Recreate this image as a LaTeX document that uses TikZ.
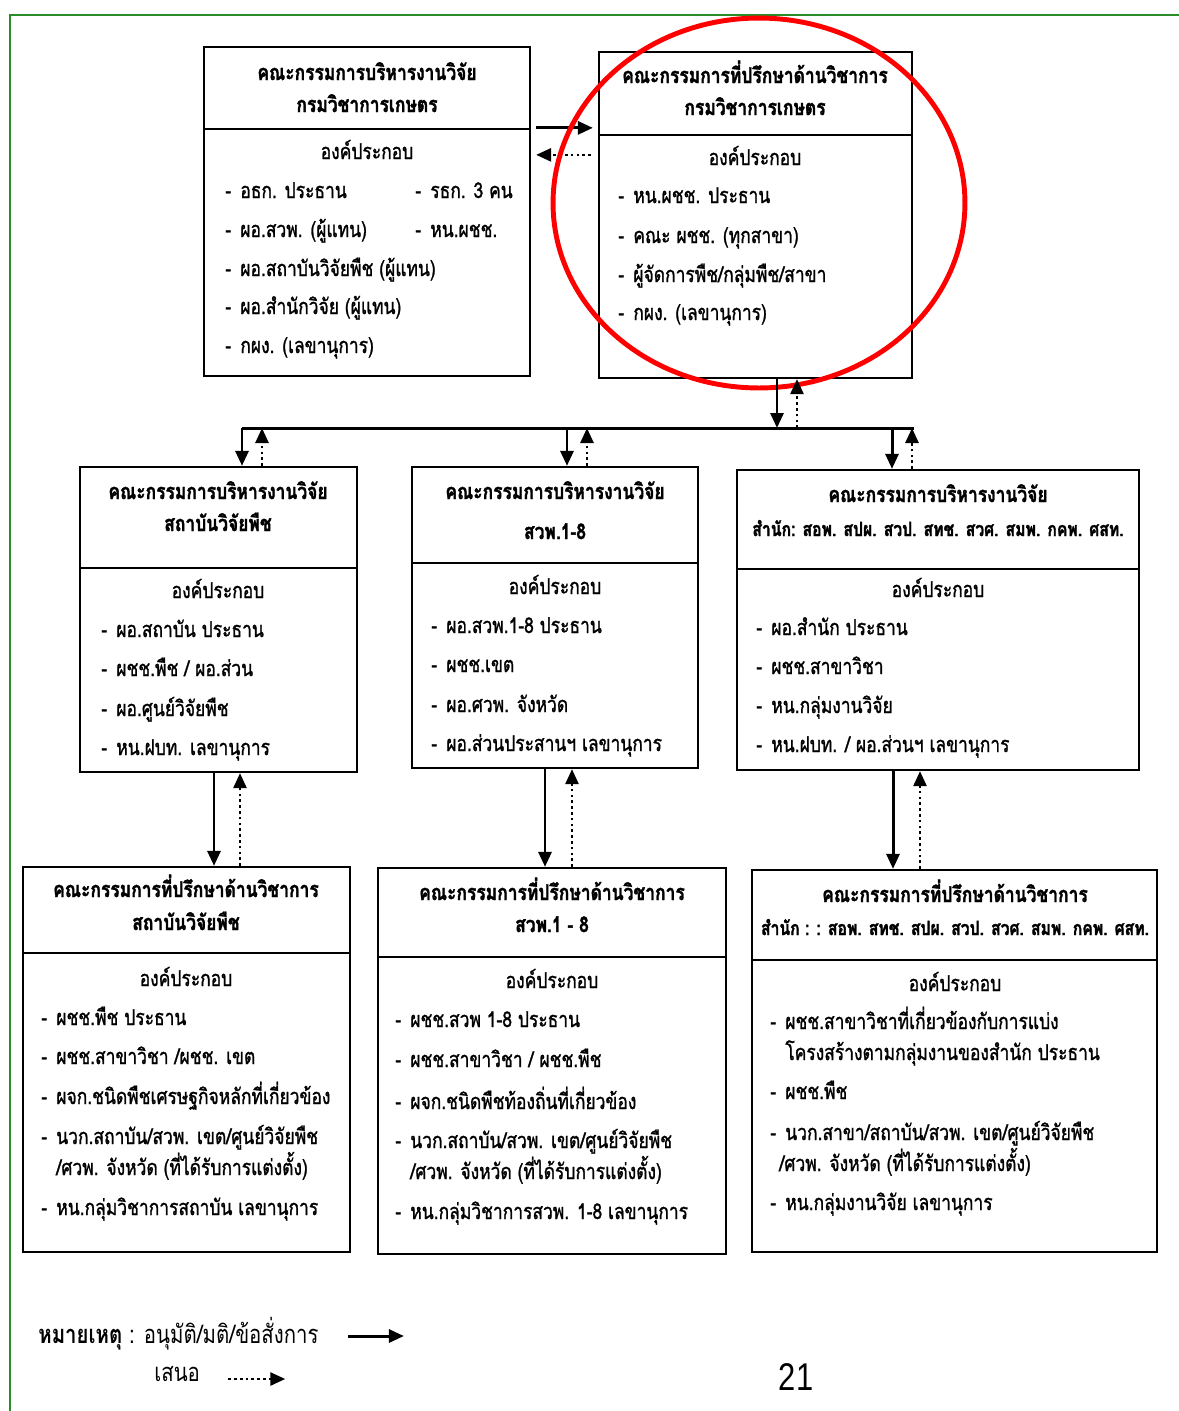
\documentclass[tikz,border=0pt]{standalone}
\usepackage{fontspec}
\setsansfont{Liberation Sans}
\newfontfamily\thai[Script=Thai, FakeStretch=0.8]{Loma}
\newfontfamily\thaimid[Script=Thai, FakeStretch=0.8, FakeBold=1.2]{Loma}
\newfontfamily\thaihead[Script=Thai, FakeStretch=0.8, FakeBold=1.5]{Loma}
\usetikzlibrary{arrows.meta,fit,calc}

\tikzset{
  part/.style={draw, line width=1.3pt, inner sep=0pt},
  ttl/.style={font=\thaihead\bfseries\fontsize{12.4}{14}\selectfont, text height=0.8em, text depth=0pt, inner sep=0pt},
  ttlsmall/.style={ttl, font=\thaihead\bfseries\fontsize{11.2}{13}\selectfont},
  lbl/.style={font=\thaimid\fontsize{12.4}{14}\selectfont, text height=0.8em, text depth=0pt, inner sep=0pt},
  itm/.style={lbl, anchor=west},
  approve/.style={line width=1.7pt, -{Triangle[length=3mm,width=2.6mm]}},
  propose/.style={line width=1.5pt, dash pattern=on 1.5pt off 1.8pt, -{Triangle[length=3mm,width=2.6mm]}},
}
\newcommand{\itemdash}{\makebox[0.3cm][l]{-}}

\begin{document}
\begin{tikzpicture}[x=0.02cm, y=-0.02cm]
  \useasboundingbox (0,0) rectangle (1179,1411);
  \draw[line width=1pt, color={rgb,255:red,40;green,140;blue,40}] (10,1411) -- (10,15) -- (1179,15);

  % top row
  \node[part, fit={(204,47) (530,129)}] (aH) {};
  \node[part, fit={(204,129) (530,376)}] (aB) {};
  \node[ttl] (a1) at (367,73) {คณะกรรมการบริหารงานวิจัย};
  \node[ttl] (a2) at (367,105) {กรมวิชาการเกษตร};
  \node[lbl] (a0) at (367,152) {องค์ประกอบ};
  \node[itm] (a3) at (225,191) {\itemdash อธก. ประธาน};
  \node[itm] (a4) at (415,191) {\itemdash รธก. 3 คน};
  \node[itm] (a5) at (225,230) {\itemdash ผอ.สวพ. (ผู้แทน)};
  \node[itm] (a6) at (415,230) {\itemdash หน.ผชช.};
  \node[itm] (a7) at (225,269) {\itemdash ผอ.สถาบันวิจัยพืช (ผู้แทน)};
  \node[itm] (a8) at (225,307) {\itemdash ผอ.สำนักวิจัย (ผู้แทน)};
  \node[itm] (a9) at (225,346) {\itemdash กผง. (เลขานุการ)};

  \node[part, fit={(599,52) (912,135)}] (bH) {};
  \node[part, fit={(599,135) (912,378)}] (bB) {};
  \node[ttl] (b1) at (755,76) {คณะกรรมการที่ปรึกษาด้านวิชาการ};
  \node[ttl] (b2) at (755,108) {กรมวิชาการเกษตร};
  \node[lbl] (b0) at (755,158) {องค์ประกอบ};
  \node[itm] (b3) at (618,196) {\itemdash หน.ผชช. ประธาน};
  \node[itm] (b4) at (618,236) {\itemdash คณะ ผชช. (ทุกสาขา)};
  \node[itm] (b5) at (618,275) {\itemdash ผู้จัดการพืช/กลุ่มพืช/สาขา};
  \node[itm] (b6) at (618,313) {\itemdash กผง. (เลขานุการ)};

  \draw[approve] ([xshift=0.1cm]aB.north east) -- ([xshift=-0.1cm]aB.north east -| bH.west);
  \draw[propose] ($(aB.north east -| bH.west)+(-7,27)$) -- ($(aB.north east)+(5,27)$);
  \draw[red, line width=2.8pt] (759,203) ellipse [x radius=4.12cm, y radius=3.7cm];

  % middle row
  \node[part, fit={(80,467) (357,568)}] (cH) {};
  \node[part, fit={(80,568) (357,772)}] (cB) {};
  \node[ttl] (c1) at (218,492) {คณะกรรมการบริหารงานวิจัย};
  \node[ttl] (c2) at (218,524) {สถาบันวิจัยพืช};
  \node[lbl] (c0) at (218,591) {องค์ประกอบ};
  \node[itm] (c3) at (101,630) {\itemdash ผอ.สถาบัน ประธาน};
  \node[itm] (c4) at (101,669) {\itemdash ผชช.พืช / ผอ.ส่วน};
  \node[itm] (c5) at (101,709) {\itemdash ผอ.ศูนย์วิจัยพืช};
  \node[itm] (c6) at (101,748) {\itemdash หน.ฝบท. เลขานุการ};

  \node[part, fit={(412,467) (698,563)}] (dH) {};
  \node[part, fit={(412,563) (698,768)}] (dB) {};
  \node[ttl] (d1) at (555,492) {คณะกรรมการบริหารงานวิจัย};
  \node[ttl] (d2) at (555,532) {สวพ.1-8};
  \node[lbl] (d0) at (555,587) {องค์ประกอบ};
  \node[itm] (d3) at (431,626) {\itemdash ผอ.สวพ.1-8 ประธาน};
  \node[itm] (d4) at (431,665) {\itemdash ผชช.เขต};
  \node[itm] (d5) at (431,705) {\itemdash ผอ.ศวพ. จังหวัด};
  \node[itm] (d6) at (431,744) {\itemdash ผอ.ส่วนประสานฯ เลขานุการ};

  \node[part, fit={(737,470) (1139,569)}] (eH) {};
  \node[part, fit={(737,569) (1139,770)}] (eB) {};
  \node[ttl] (e1) at (938,495) {คณะกรรมการบริหารงานวิจัย};
  \node[ttlsmall] (e2) at (938,529) {สำนัก: สอพ. สปผ. สวป. สทช. สวศ. สมพ. กคพ. ศสท.};
  \node[lbl] (e0) at (938,590) {องค์ประกอบ};
  \node[itm] (e3) at (756,628) {\itemdash ผอ.สำนัก ประธาน};
  \node[itm] (e4) at (756,667) {\itemdash ผชช.สาขาวิชา};
  \node[itm] (e5) at (756,706) {\itemdash หน.กลุ่มงานวิจัย};
  \node[itm] (e6) at (756,745) {\itemdash หน.ฝบท. / ผอ.ส่วนฯ เลขานุการ};

  % bus between top and middle row
  \coordinate (busL) at (242,428);
  \coordinate (busR) at (914,428);
  \coordinate (busD) at (567,428);
  \coordinate (busE) at (892,428);
  \draw[line width=1.7pt] (busL) -- (busR);
  \draw[approve] ([xshift=0.43cm]bB.south) -- ([xshift=0.43cm]bB.south |- busL);
  \draw[propose] ([xshift=0.83cm]bB.south |- busL) -- ([xshift=0.83cm]bB.south);
  \draw[approve] (busL) -- (busL |- cH.north);
  \draw[propose] ([xshift=0.4cm]busL |- cH.north) -- ([xshift=0.4cm]busL);
  \draw[approve] (busD) -- (busD |- dH.north);
  \draw[propose] ([xshift=0.4cm]busD |- dH.north) -- ([xshift=0.4cm]busD);
  \draw[approve] (busE) -- (busE |- eH.north);
  \draw[propose] ([xshift=0.4cm]busE |- eH.north) -- ([xshift=0.4cm]busE);

  % bottom row
  \node[part, fit={(23,867) (350,953)}] (fH) {};
  \node[part, fit={(23,953) (350,1252)}] (fB) {};
  \node[ttl] (f1) at (186,890) {คณะกรรมการที่ปรึกษาด้านวิชาการ};
  \node[ttl] (f2) at (186,923) {สถาบันวิจัยพืช};
  \node[lbl] (f0) at (186,979) {องค์ประกอบ};
  \node[itm] (f3) at (41,1018) {\itemdash ผชช.พืช ประธาน};
  \node[itm] (f4) at (41,1057) {\itemdash ผชช.สาขาวิชา /ผชช. เขต};
  \node[itm] (f5) at (41,1097) {\itemdash ผจก.ชนิดพืชเศรษฐกิจหลักที่เกี่ยวข้อง};
  \node[itm] (f6) at (41,1137) {\itemdash นวก.สถาบัน/สวพ. เขต/ศูนย์วิจัยพืช};
  \node[itm] (f7) at (56,1168) {/ศวพ. จังหวัด (ที่ได้รับการแต่งตั้ง)};
  \node[itm] (f8) at (41,1208) {\itemdash หน.กลุ่มวิชาการสถาบัน เลขานุการ};

  \node[part, fit={(378,868) (726,957)}] (gH) {};
  \node[part, fit={(378,957) (726,1254)}] (gB) {};
  \node[ttl] (g1) at (552,893) {คณะกรรมการที่ปรึกษาด้านวิชาการ};
  \node[ttl] (g2) at (552,925) {สวพ.1 - 8};
  \node[lbl] (g0) at (552,981) {องค์ประกอบ};
  \node[itm] (g3) at (395,1020) {\itemdash ผชช.สวพ 1-8 ประธาน};
  \node[itm] (g4) at (395,1060) {\itemdash ผชช.สาขาวิชา / ผชช.พืช};
  \node[itm] (g5) at (395,1102) {\itemdash ผจก.ชนิดพืชท้องถิ่นที่เกี่ยวข้อง};
  \node[itm] (g6) at (395,1141) {\itemdash นวก.สถาบัน/สวพ. เขต/ศูนย์วิจัยพืช};
  \node[itm] (g7) at (410,1172) {/ศวพ. จังหวัด (ที่ได้รับการแต่งตั้ง)};
  \node[itm] (g8) at (395,1212) {\itemdash หน.กลุ่มวิชาการสวพ. 1-8 เลขานุการ};

  \node[part, fit={(752,870) (1157,960)}] (hH) {};
  \node[part, fit={(752,960) (1157,1252)}] (hB) {};
  \node[ttl] (h1) at (955,895) {คณะกรรมการที่ปรึกษาด้านวิชาการ};
  \node[ttlsmall] (h2) at (955,928) {สำนัก : : สอพ. สทช. สปผ. สวป. สวศ. สมพ. กคพ. ศสท.};
  \node[lbl] (h0) at (955,984) {องค์ประกอบ};
  \node[itm] (h3) at (770,1022) {\itemdash ผชช.สาขาวิชาที่เกี่ยวข้องกับการแบ่ง};
  \node[itm] (h4) at (785,1053) {โครงสร้างตามกลุ่มงานของสำนัก ประธาน};
  \node[itm] (h5) at (770,1092) {\itemdash ผชช.พืช};
  \node[itm] (h6) at (770,1133) {\itemdash นวก.สาขา/สถาบัน/สวพ. เขต/ศูนย์วิจัยพืช};
  \node[itm] (h7) at (779,1164) {/ศวพ. จังหวัด (ที่ได้รับการแต่งตั้ง)};
  \node[itm] (h8) at (770,1203) {\itemdash หน.กลุ่มงานวิจัย เลขานุการ};

  % between middle and bottom row
  \draw[approve] ([xshift=-0.09cm]cB.south) -- ([xshift=-0.09cm]cB.south |- fH.north);
  \draw[propose] ([xshift=0.43cm]cB.south |- fH.north) -- ([xshift=0.43cm]cB.south);
  \draw[approve] ([xshift=-0.2cm]dB.south) -- ([xshift=-0.2cm]dB.south |- gH.north);
  \draw[propose] ([xshift=0.34cm]dB.south |- gH.north) -- ([xshift=0.34cm]dB.south);
  \draw[approve] ([xshift=-0.9cm]eB.south) -- ([xshift=-0.9cm]eB.south |- hH.north);
  \draw[propose] ([xshift=-0.36cm]eB.south |- hH.north) -- ([xshift=-0.36cm]eB.south);

  % legend
  \node[itm, font=\thai\fontsize{14.5}{16}\selectfont] (note) at (38,1336) {{\bfseries หมายเหตุ} : อนุมัติ/มติ/ข้อสั่งการ};
  \node[itm, font=\thai\fontsize{14.5}{16}\selectfont] (offer) at (154,1374) {เสนอ};
  \draw[approve] ([xshift=0.58cm]note.east) -- ++(56,0);
  \draw[propose] ([shift={(0.56cm,-0.1cm)}]offer.east) -- ++(57,0);
  \node[font=\sffamily\fontsize{22}{24}\selectfont] (page) at (796,1377) {\scalebox{0.8}[1]{21}};
\end{tikzpicture}
\end{document}
